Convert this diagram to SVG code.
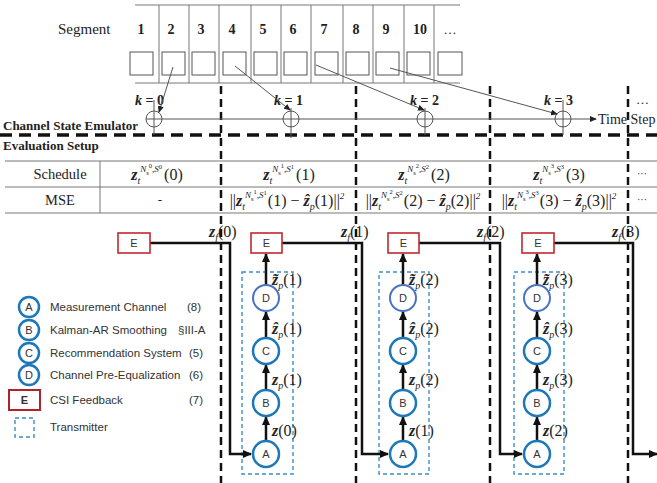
<svg xmlns="http://www.w3.org/2000/svg" width="657" height="483" viewBox="0 0 657 483">
<style>
.s{font-family:"Liberation Serif","DejaVu Serif",serif;fill:#222}
.sb{font-family:"Liberation Serif","DejaVu Serif",serif;font-weight:bold;fill:#222}
.m{font-family:"Liberation Serif","DejaVu Serif",serif;fill:#222;font-size:16px}
.b{font-weight:bold;font-style:italic}
.sub{font-size:10px;font-style:italic}
.sup{font-size:9px;font-style:italic}
.tiny{font-size:6.5px}
.thin{stroke:#555;stroke-width:1;fill:none}
.grid{stroke:#777;stroke-width:1;fill:none}
.dv{stroke:#111;stroke-width:2.5;stroke-dasharray:8 5;fill:none}
.dh{stroke:#111;stroke-width:3.5;stroke-dasharray:12 7;fill:none}
.thick{stroke:#111;stroke-width:2.5;fill:none}
.cA{fill:#fff;stroke:#1c78b8;stroke-width:2.5}
.cD{fill:#fff;stroke:#4a73c4;stroke-width:2}
.eb{fill:#fff;stroke:#c0282d;stroke-width:1.6}
.tx{fill:none;stroke:#3a8fc8;stroke-width:1.4;stroke-dasharray:4 3}
.lt{font-family:"Liberation Sans",Arial,sans-serif;font-size:11.5px;fill:#333}
.ct{font-family:"Liberation Sans",Arial,sans-serif;font-size:11px;fill:#333;text-anchor:middle}
</style>
<defs>
<marker id="ah" markerUnits="userSpaceOnUse" markerWidth="9" markerHeight="8" refX="8" refY="4" orient="auto"><path d="M0,0 L9,4 L0,8 z" fill="#111"/></marker>
<marker id="at" markerUnits="userSpaceOnUse" markerWidth="7" markerHeight="6" refX="6" refY="3" orient="auto"><path d="M0,0 L7,3 L0,6 z" fill="#222"/></marker>
</defs>
<rect width="657" height="483" fill="#fff"/>

<!-- Segment grid -->
<g id="segments">
<text class="s" x="58" y="34" font-size="15">Segment</text>
<path class="grid" d="M135,5 H460 M135,83 H460 M159,5 V83 M189,5 V83 M219,5 V83 M251,5 V83 M281,5 V83 M311,5 V83 M343,5 V83 M373,5 V83 M404,5 V83 M434,5 V83"/>
<g class="sb" font-size="14" text-anchor="middle">
<text x="141" y="34">1</text><text x="171" y="34">2</text><text x="201" y="34">3</text><text x="232" y="34">4</text><text x="263" y="34">5</text><text x="293" y="34">6</text><text x="324" y="34">7</text><text x="356" y="34">8</text><text x="386" y="34">9</text><text x="420" y="34">10</text>
</g>
<text class="s" x="450" y="34" font-size="13" text-anchor="middle">…</text>
<g fill="#fff" stroke="#555" stroke-width="1">
<rect x="130" y="52" width="23" height="23"/><rect x="162" y="52" width="23" height="23"/><rect x="192" y="52" width="23" height="23"/><rect x="223" y="52" width="23" height="23"/><rect x="254" y="52" width="23" height="23"/><rect x="284" y="52" width="23" height="23"/><rect x="315" y="52" width="23" height="23"/><rect x="346" y="52" width="23" height="23"/><rect x="376" y="52" width="23" height="23"/><rect x="407" y="52" width="23" height="23"/><rect x="438" y="52" width="24" height="23"/>
</g>
</g>

<!-- Dashed separators -->
<g id="separators">
<path class="dv" d="M221,86 V483 M356,86 V483 M490,86 V483 M628,86 V483"/>
<path class="dh" d="M0,135 H657"/>
</g>

<!-- Emulator -->
<g id="emulator">
<text class="sb" x="3" y="130" font-size="13">Channel State Emulator</text>
<line class="thin" x1="146" y1="119" x2="596" y2="119" marker-end="url(#at)"/>
<text class="s" x="598" y="124" font-size="14">Time Step</text>
<g class="thin" stroke="#333">
<circle cx="154" cy="119" r="8"/><line x1="154" y1="100" x2="154" y2="135"/>
<circle cx="291" cy="119" r="8"/><line x1="291" y1="108" x2="291" y2="138"/>
<circle cx="425" cy="119" r="8"/><line x1="425" y1="108" x2="425" y2="135"/>
<circle cx="563" cy="119" r="8"/><line x1="563" y1="100" x2="563" y2="135"/>
</g>
<g class="sb" font-size="14">
<text x="135" y="105"><tspan font-style="italic">k</tspan> = 0</text>
<text x="274" y="105"><tspan font-style="italic">k</tspan> = 1</text>
<text x="410" y="105"><tspan font-style="italic">k</tspan> = 2</text>
<text x="544" y="105"><tspan font-style="italic">k</tspan> = 3</text>
</g>
<text class="s" x="636" y="104" font-size="13">…</text>
</g>

<g id="connectors-top">
<line class="thin" x1="173" y1="67" x2="159" y2="112" marker-end="url(#at)"/>
<line class="thin" x1="235" y1="66" x2="290" y2="110" marker-end="url(#at)"/>
<line class="thin" x1="316" y1="65" x2="424" y2="110" marker-end="url(#at)"/>
<line class="thin" x1="390" y1="68" x2="557" y2="114" marker-end="url(#at)"/>
</g>

<!-- Table -->
<g id="table">
<text class="sb" x="3" y="150" font-size="13">Evaluation Setup</text>
<path class="grid" d="M5,161 H657 M5,187 H657 M5,213 H657 M100,161 V213"/>
<text class="s" x="60" y="179" font-size="14.5" text-anchor="middle">Schedule</text>
<text class="s" x="60" y="205" font-size="14.5" text-anchor="middle">MSE</text>
<text class="m" x="157" y="180" text-anchor="middle"><tspan class="b">z</tspan><tspan class="sub" dy="4">t</tspan><tspan class="sup" dy="-12">N</tspan><tspan class="tiny" dy="3">s</tspan><tspan class="tiny" dy="-7">0</tspan><tspan class="sup" dy="4">,S</tspan><tspan class="tiny" dy="-3">0</tspan><tspan dx="2" dy="11">(0)</tspan></text>
<text class="m" x="289" y="180" text-anchor="middle"><tspan class="b">z</tspan><tspan class="sub" dy="4">t</tspan><tspan class="sup" dy="-12">N</tspan><tspan class="tiny" dy="3">s</tspan><tspan class="tiny" dy="-7">1</tspan><tspan class="sup" dy="4">,S</tspan><tspan class="tiny" dy="-3">1</tspan><tspan dx="2" dy="11">(1)</tspan></text>
<text class="m" x="424" y="180" text-anchor="middle"><tspan class="b">z</tspan><tspan class="sub" dy="4">t</tspan><tspan class="sup" dy="-12">N</tspan><tspan class="tiny" dy="3">s</tspan><tspan class="tiny" dy="-7">2</tspan><tspan class="sup" dy="4">,S</tspan><tspan class="tiny" dy="-3">2</tspan><tspan dx="2" dy="11">(2)</tspan></text>
<text class="m" x="559" y="180" text-anchor="middle"><tspan class="b">z</tspan><tspan class="sub" dy="4">t</tspan><tspan class="sup" dy="-12">N</tspan><tspan class="tiny" dy="3">s</tspan><tspan class="tiny" dy="-7">3</tspan><tspan class="sup" dy="4">,S</tspan><tspan class="tiny" dy="-3">3</tspan><tspan dx="2" dy="11">(3)</tspan></text>
<text class="s" x="642" y="177" font-size="10" text-anchor="middle">···</text>
<text class="s" x="160" y="204" font-size="13" text-anchor="middle">-</text>
<text class="m" x="287" y="206" text-anchor="middle" font-size="15">||<tspan class="b">z</tspan><tspan class="sub" dy="4">t</tspan><tspan class="sup" dy="-12">N</tspan><tspan class="tiny" dy="3">s</tspan><tspan class="tiny" dy="-7">1</tspan><tspan class="sup" dy="4">,S</tspan><tspan class="tiny" dy="-3">1</tspan><tspan dx="1" dy="11">(1) − </tspan><tspan class="b">ẑ</tspan><tspan class="sub" dy="4">p</tspan><tspan dy="-4">(1)||</tspan><tspan class="sup" dy="-7">2</tspan></text>
<text class="m" x="423" y="206" text-anchor="middle" font-size="15">||<tspan class="b">z</tspan><tspan class="sub" dy="4">t</tspan><tspan class="sup" dy="-12">N</tspan><tspan class="tiny" dy="3">s</tspan><tspan class="tiny" dy="-7">2</tspan><tspan class="sup" dy="4">,S</tspan><tspan class="tiny" dy="-3">2</tspan><tspan dx="1" dy="11">(2) − </tspan><tspan class="b">ẑ</tspan><tspan class="sub" dy="4">p</tspan><tspan dy="-4">(2)||</tspan><tspan class="sup" dy="-7">2</tspan></text>
<text class="m" x="559" y="206" text-anchor="middle" font-size="15">||<tspan class="b">z</tspan><tspan class="sub" dy="4">t</tspan><tspan class="sup" dy="-12">N</tspan><tspan class="tiny" dy="3">s</tspan><tspan class="tiny" dy="-7">3</tspan><tspan class="sup" dy="4">,S</tspan><tspan class="tiny" dy="-3">3</tspan><tspan dx="1" dy="11">(3) − </tspan><tspan class="b">ẑ</tspan><tspan class="sub" dy="4">p</tspan><tspan dy="-4">(3)||</tspan><tspan class="sup" dy="-7">2</tspan></text>
<text class="s" x="642" y="203" font-size="10" text-anchor="middle">···</text>
</g>

<!-- zf labels -->
<g id="zf-labels">
<text class="m" x="209" y="237"><tspan class="b">z</tspan><tspan class="sub" dy="4">f</tspan><tspan dy="-4">(0)</tspan></text>
<text class="m" x="341" y="237"><tspan class="b">z</tspan><tspan class="sub" dy="4">f</tspan><tspan dy="-4">(1)</tspan></text>
<text class="m" x="477" y="237"><tspan class="b">z</tspan><tspan class="sub" dy="4">f</tspan><tspan dy="-4">(2)</tspan></text>
<text class="m" x="612" y="237"><tspan class="b">z</tspan><tspan class="sub" dy="4">f</tspan><tspan dy="-4">(3)</tspan></text>
</g>

<!-- Transmitter boxes -->
<g id="transmitters">
<rect class="tx" x="242" y="272" width="51" height="202"/>
<rect class="tx" x="379" y="272" width="50" height="202"/>
<rect class="tx" x="514" y="272" width="50" height="202"/>
</g>

<!-- Connectors -->
<g id="connectors">
<path class="thick" d="M150,243 H230 V454 H251" marker-end="url(#ah)"/>
<path class="thick" d="M282,243 H362 V454 H388" marker-end="url(#ah)"/>
<path class="thick" d="M419,243 H500 V454 H522" marker-end="url(#ah)"/>
<path class="thick" d="M554,243 H633 V454 H657" marker-end="url(#ah)"/>
<g class="thick">
<line x1="266" y1="441" x2="266" y2="417" marker-end="url(#ah)"/>
<line x1="266" y1="390" x2="266" y2="365" marker-end="url(#ah)"/>
<line x1="266" y1="338" x2="266" y2="312" marker-end="url(#ah)"/>
<line x1="266" y1="285" x2="266" y2="254" marker-end="url(#ah)"/>
<line x1="403" y1="441" x2="403" y2="417" marker-end="url(#ah)"/>
<line x1="403" y1="390" x2="403" y2="365" marker-end="url(#ah)"/>
<line x1="403" y1="338" x2="403" y2="312" marker-end="url(#ah)"/>
<line x1="403" y1="285" x2="403" y2="254" marker-end="url(#ah)"/>
<line x1="537" y1="441" x2="537" y2="417" marker-end="url(#ah)"/>
<line x1="537" y1="390" x2="537" y2="365" marker-end="url(#ah)"/>
<line x1="537" y1="338" x2="537" y2="312" marker-end="url(#ah)"/>
<line x1="537" y1="285" x2="537" y2="254" marker-end="url(#ah)"/>
</g>
</g>

<!-- Arrow labels -->
<g id="arrow-labels">
<text class="m" x="272" y="285"><tspan class="b">z̃</tspan><tspan class="sub" dy="4">p</tspan><tspan dy="-4">(1)</tspan></text>
<text class="m" x="272" y="334"><tspan class="b">ẑ</tspan><tspan class="sub" dy="4">p</tspan><tspan dy="-4">(1)</tspan></text>
<text class="m" x="272" y="385"><tspan class="b">z</tspan><tspan class="sub" dy="4">p</tspan><tspan dy="-4">(1)</tspan></text>
<text class="m" x="272" y="436"><tspan class="b">z</tspan>(0)</text>
<text class="m" x="409" y="285"><tspan class="b">z̃</tspan><tspan class="sub" dy="4">p</tspan><tspan dy="-4">(2)</tspan></text>
<text class="m" x="409" y="334"><tspan class="b">ẑ</tspan><tspan class="sub" dy="4">p</tspan><tspan dy="-4">(2)</tspan></text>
<text class="m" x="409" y="385"><tspan class="b">z</tspan><tspan class="sub" dy="4">p</tspan><tspan dy="-4">(2)</tspan></text>
<text class="m" x="409" y="436"><tspan class="b">z</tspan>(1)</text>
<text class="m" x="543" y="285"><tspan class="b">z̃</tspan><tspan class="sub" dy="4">p</tspan><tspan dy="-4">(3)</tspan></text>
<text class="m" x="543" y="334"><tspan class="b">ẑ</tspan><tspan class="sub" dy="4">p</tspan><tspan dy="-4">(3)</tspan></text>
<text class="m" x="543" y="385"><tspan class="b">z</tspan><tspan class="sub" dy="4">p</tspan><tspan dy="-4">(3)</tspan></text>
<text class="m" x="543" y="436"><tspan class="b">z</tspan>(2)</text>
</g>

<!-- E nodes -->
<g id="E0"><rect class="eb" x="118" y="233" width="32" height="20"/><text class="ct" x="134" y="247">E</text></g>
<g id="E1"><rect class="eb" x="251" y="233" width="31" height="20"/><text class="ct" x="266.5" y="247">E</text></g>
<g id="E2"><rect class="eb" x="388" y="233" width="31" height="20"/><text class="ct" x="403.5" y="247">E</text></g>
<g id="E3"><rect class="eb" x="522" y="233" width="32" height="20"/><text class="ct" x="538" y="247">E</text></g>

<!-- Circle nodes block 1 -->
<g id="D1"><circle class="cD" cx="266" cy="298" r="13"/><text class="ct" x="266" y="302">D</text></g>
<g id="C1"><circle class="cA" cx="266" cy="351" r="13"/><text class="ct" x="266" y="355">C</text></g>
<g id="B1"><circle class="cA" cx="266" cy="403" r="13"/><text class="ct" x="266" y="407">B</text></g>
<g id="A1"><circle class="cA" cx="266" cy="454" r="13"/><text class="ct" x="266" y="458">A</text></g>
<!-- block 2 -->
<g id="D2"><circle class="cD" cx="403" cy="298" r="13"/><text class="ct" x="403" y="302">D</text></g>
<g id="C2"><circle class="cA" cx="403" cy="351" r="13"/><text class="ct" x="403" y="355">C</text></g>
<g id="B2"><circle class="cA" cx="403" cy="403" r="13"/><text class="ct" x="403" y="407">B</text></g>
<g id="A2"><circle class="cA" cx="403" cy="454" r="13"/><text class="ct" x="403" y="458">A</text></g>
<!-- block 3 -->
<g id="D3"><circle class="cD" cx="537" cy="298" r="13"/><text class="ct" x="537" y="302">D</text></g>
<g id="C3"><circle class="cA" cx="537" cy="351" r="13"/><text class="ct" x="537" y="355">C</text></g>
<g id="B3"><circle class="cA" cx="537" cy="403" r="13"/><text class="ct" x="537" y="407">B</text></g>
<g id="A3"><circle class="cA" cx="537" cy="454" r="13"/><text class="ct" x="537" y="458">A</text></g>

<!-- Legend -->
<g id="legend">
<circle class="cA" cx="29" cy="307" r="10"/><text class="ct" x="29" y="311" font-size="10">A</text>
<text class="lt" x="50" y="311">Measurement Channel</text><text class="lt" x="187" y="311">(8)</text>
<circle class="cA" cx="29" cy="330" r="10"/><text class="ct" x="29" y="334" font-size="10">B</text>
<text class="lt" x="50" y="334">Kalman-AR Smoothing</text><text class="lt" x="178" y="334">§III-A</text>
<circle class="cA" cx="29" cy="353" r="10"/><text class="ct" x="29" y="357" font-size="10">C</text>
<text class="lt" x="50" y="357">Recommendation System</text><text class="lt" x="189" y="357">(5)</text>
<circle class="cA" cx="29" cy="375" r="10"/><text class="ct" x="29" y="379" font-size="10">D</text>
<text class="lt" x="50" y="379">Channel Pre-Equalization</text><text class="lt" x="189" y="379">(6)</text>
<rect x="9" y="390" width="31" height="20" fill="#fff" stroke="#b2222a" stroke-width="2"/>
<text class="ct" x="24.5" y="404" font-weight="bold" fill="#111">E</text>
<text class="lt" x="50" y="404">CSI Feedback</text><text class="lt" x="189" y="404">(7)</text>
<rect class="tx" x="15" y="418" width="19" height="19" stroke-width="1.8"/>
<text class="lt" x="50" y="431">Transmitter</text>
</g>
</svg>
